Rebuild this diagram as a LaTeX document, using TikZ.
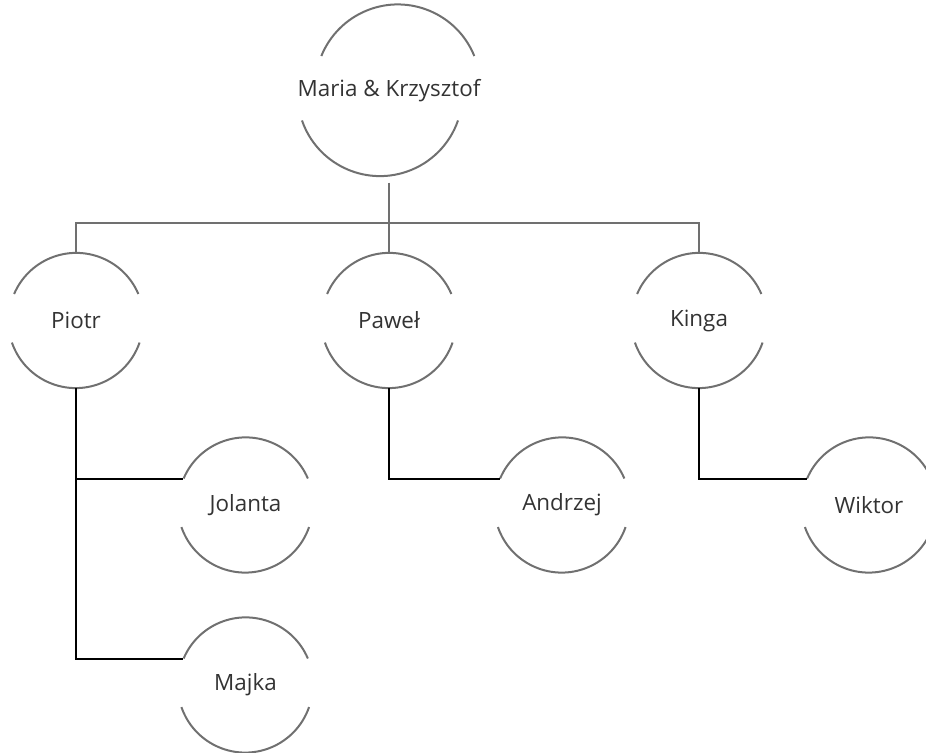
\documentclass[tikz,border=0pt]{standalone}
\usepackage{fontspec}
\setmainfont{Open Sans}
\usetikzlibrary{calc}

\definecolor{rimgray}{HTML}{707070}
\definecolor{textgray}{HTML}{333333}

\begin{document}
\begin{tikzpicture}[x=0.75pt, y=0.75pt,
  person/.style={circle, inner sep=0pt, minimum size=101.25pt, text=textgray, font=\fontsize{16.8}{20}\selectfont},
  rim/.style={rimgray, line width=1.5pt},
  link/.style={line width=1.5pt}]
\clip (0,0) rectangle (926,-753);
\useasboundingbox (0,0) rectangle (926,-753);

\node[person, minimum size=123.75pt] (mk) at (389,-90.5) {Maria \& Krzysztof};
\node[person] (piotr) at (76,-320.5) {Piotr};
\node[person] (pawel) at (389,-320.5) {Paweł};
\node[person] (kinga) at (699,-320.5) {Kinga};
\node[person] (jolanta) at (245.5,-505) {Jolanta};
\node[person] (andrzej) at (562,-505) {Andrzej};
\node[person] (wiktor) at (869,-505) {Wiktor};
\node[person] (majka) at (245.5,-685) {Majka};

% open circles: one arc on top, one below
\draw[rim] (mk.22) arc[start angle=22, end angle=158, radius=61.875pt];
\draw[rim] (mk.199) arc[start angle=199, end angle=341, radius=61.875pt];
\foreach\n in {piotr,pawel,kinga,jolanta,andrzej,wiktor,majka}{
  \draw[rim] (\n.23) arc[start angle=23, end angle=157, radius=50.625pt];
  \draw[rim] (\n.199) arc[start angle=199, end angle=341, radius=50.625pt];
}

\coordinate (bus) at (389,-223);
\draw[rim] (mk.south) -- (pawel.north);
\draw[rim] (piotr.north) -- (piotr.north |- bus) -| (kinga.north);

\draw[link] (piotr.south) |- (jolanta.157);
\draw[link] (piotr.south) |- (majka.157);
\draw[link] (pawel.south) |- (andrzej.157);
\draw[link] (kinga.south) |- (wiktor.157);
\end{tikzpicture}
\end{document}
